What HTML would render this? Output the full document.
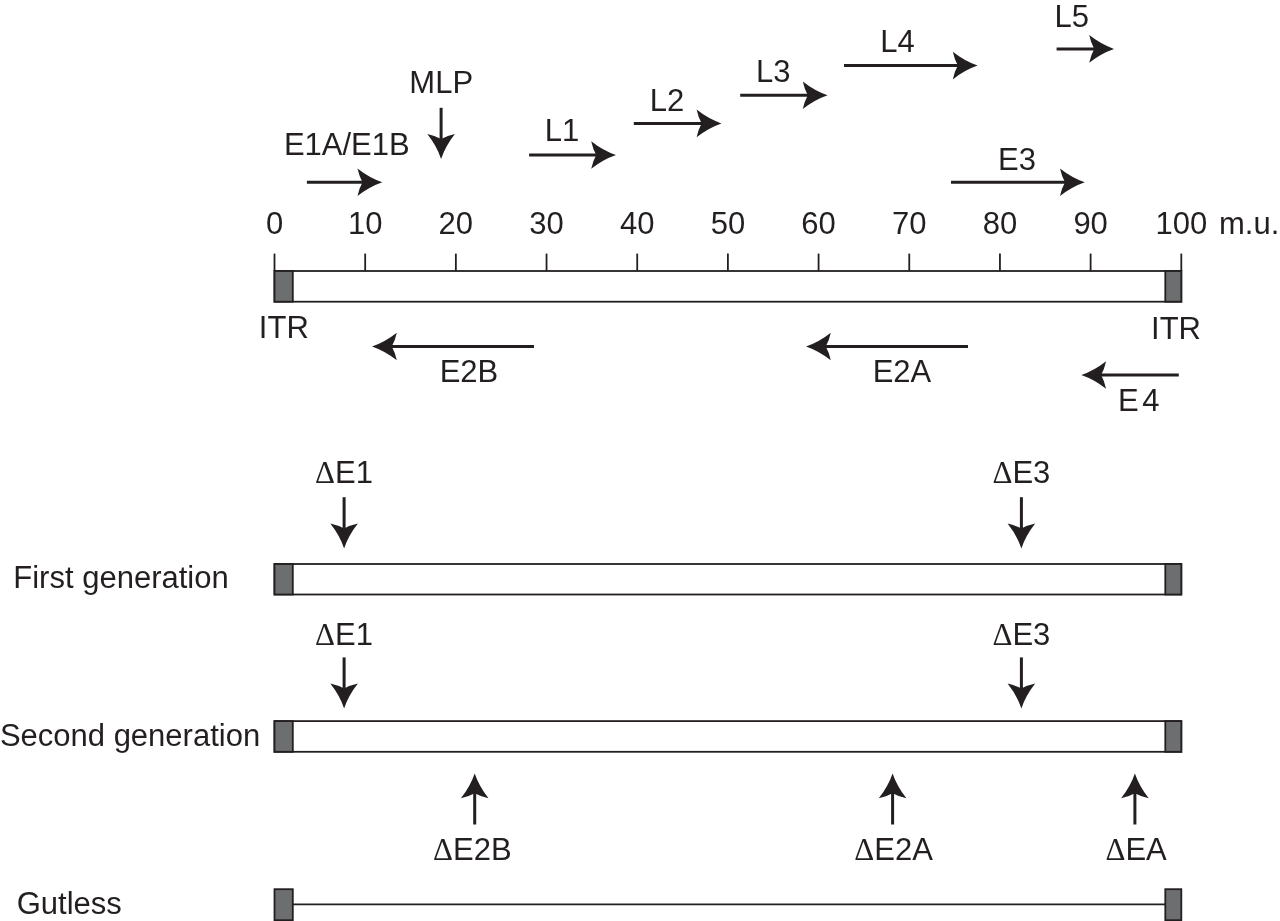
<!DOCTYPE html>
<html lang="en">
<head>
<meta charset="utf-8">
<title>Adenovirus genome map and vector generations</title>
<style>
html,body{margin:0;padding:0;background:#fff;}
body{width:1280px;height:921px;overflow:hidden;}
svg{display:block;will-change:transform;}
svg text{font-family:"Liberation Sans",Arial,Helvetica,sans-serif;fill:#231f20;}
svg .sym{font-family:"Liberation Serif","Times New Roman",serif;}
</style>
</head>
<body>
<svg width="1280" height="921" viewBox="0 0 1280 921">
<rect x="0" y="0" width="1280" height="921" fill="#ffffff"/>
<line x1="274.50" y1="253.6" x2="274.50" y2="271" stroke="#231f20" stroke-width="1.8"/>
<text x="274.5" y="234" text-anchor="middle" font-size="31">0</text>
<line x1="365.18" y1="253.6" x2="365.18" y2="271" stroke="#231f20" stroke-width="1.8"/>
<text x="365.18" y="234" text-anchor="middle" font-size="31">10</text>
<line x1="455.86" y1="253.6" x2="455.86" y2="271" stroke="#231f20" stroke-width="1.8"/>
<text x="455.86" y="234" text-anchor="middle" font-size="31">20</text>
<line x1="546.54" y1="253.6" x2="546.54" y2="271" stroke="#231f20" stroke-width="1.8"/>
<text x="546.54" y="234" text-anchor="middle" font-size="31">30</text>
<line x1="637.22" y1="253.6" x2="637.22" y2="271" stroke="#231f20" stroke-width="1.8"/>
<text x="637.22" y="234" text-anchor="middle" font-size="31">40</text>
<line x1="727.90" y1="253.6" x2="727.90" y2="271" stroke="#231f20" stroke-width="1.8"/>
<text x="727.9" y="234" text-anchor="middle" font-size="31">50</text>
<line x1="818.58" y1="253.6" x2="818.58" y2="271" stroke="#231f20" stroke-width="1.8"/>
<text x="818.58" y="234" text-anchor="middle" font-size="31">60</text>
<line x1="909.26" y1="253.6" x2="909.26" y2="271" stroke="#231f20" stroke-width="1.8"/>
<text x="909.26" y="234" text-anchor="middle" font-size="31">70</text>
<line x1="999.94" y1="253.6" x2="999.94" y2="271" stroke="#231f20" stroke-width="1.8"/>
<text x="999.94" y="234" text-anchor="middle" font-size="31">80</text>
<line x1="1090.62" y1="253.6" x2="1090.62" y2="271" stroke="#231f20" stroke-width="1.8"/>
<text x="1090.62" y="234" text-anchor="middle" font-size="31">90</text>
<line x1="1181.30" y1="253.6" x2="1181.30" y2="271" stroke="#231f20" stroke-width="1.8"/>
<text x="1181.3" y="234" text-anchor="middle" font-size="31">100</text>
<text x="1219" y="234" text-anchor="start" font-size="31">m.u.</text>
<rect x="274.5" y="271" width="906.8" height="30.69999999999999" fill="#fff" stroke="#231f20" stroke-width="1.8"/>
<rect x="274.5" y="271" width="18.3" height="30.69999999999999" fill="#6d6e70" stroke="#231f20" stroke-width="1.8"/>
<rect x="1165.3" y="271" width="16.0" height="30.69999999999999" fill="#6d6e70" stroke="#231f20" stroke-width="1.8"/>
<text x="283.8" y="338.2" text-anchor="middle" font-size="31">ITR</text>
<text x="1176" y="338.5" text-anchor="middle" font-size="31">ITR</text>
<line x1="306.9" y1="182.2" x2="363.2" y2="182.2" stroke="#231f20" stroke-width="3.0"/>
<path d="M382.30 182.20 Q369.40 186.62 357.50 196.00 Q359.25 188.00 362.50 182.20 Q359.25 176.40 357.50 168.40 Q369.40 177.78 382.30 182.20 Z" fill="#231f20"/>
<text x="346.8" y="155" text-anchor="middle" font-size="31">E1A/E1B</text>
<text x="441.2" y="92.8" text-anchor="middle" font-size="31">MLP</text>
<line x1="441.1" y1="107.8" x2="441.1" y2="139.79999999999998" stroke="#231f20" stroke-width="3.0"/>
<path d="M441.10 158.90 Q436.68 146.00 427.30 134.10 Q435.30 135.85 441.10 139.10 Q446.90 135.85 454.90 134.10 Q445.52 146.00 441.10 158.90 Z" fill="#231f20"/>
<line x1="529.1" y1="155.0" x2="596.9000000000001" y2="155.0" stroke="#231f20" stroke-width="3.0"/>
<path d="M616.00 155.00 Q603.10 159.42 591.20 168.80 Q592.95 160.80 596.20 155.00 Q592.95 149.20 591.20 141.20 Q603.10 150.58 616.00 155.00 Z" fill="#231f20"/>
<text x="561.9" y="140.9" text-anchor="middle" font-size="31">L1</text>
<line x1="633.8" y1="123.4" x2="702.3000000000001" y2="123.4" stroke="#231f20" stroke-width="3.0"/>
<path d="M721.40 123.40 Q708.50 127.82 696.60 137.20 Q698.35 129.20 701.60 123.40 Q698.35 117.60 696.60 109.60 Q708.50 118.98 721.40 123.40 Z" fill="#231f20"/>
<text x="667" y="110.9" text-anchor="middle" font-size="31">L2</text>
<line x1="740.2" y1="95.3" x2="808.5" y2="95.3" stroke="#231f20" stroke-width="3.0"/>
<path d="M827.60 95.30 Q814.70 99.72 802.80 109.10 Q804.55 101.10 807.80 95.30 Q804.55 89.50 802.80 81.50 Q814.70 90.88 827.60 95.30 Z" fill="#231f20"/>
<text x="773.2" y="81.9" text-anchor="middle" font-size="31">L3</text>
<line x1="844" y1="65.6" x2="958.5" y2="65.6" stroke="#231f20" stroke-width="3.0"/>
<path d="M977.60 65.60 Q964.70 70.02 952.80 79.40 Q954.55 71.40 957.80 65.60 Q954.55 59.80 952.80 51.80 Q964.70 61.18 977.60 65.60 Z" fill="#231f20"/>
<text x="897.4" y="51.9" text-anchor="middle" font-size="31">L4</text>
<line x1="1056.6" y1="48.9" x2="1094.9" y2="48.9" stroke="#231f20" stroke-width="3.0"/>
<path d="M1114.00 48.90 Q1101.10 53.32 1089.20 62.70 Q1090.95 54.70 1094.20 48.90 Q1090.95 43.10 1089.20 35.10 Q1101.10 44.48 1114.00 48.90 Z" fill="#231f20"/>
<text x="1071.7" y="26.9" text-anchor="middle" font-size="31">L5</text>
<line x1="951" y1="182.3" x2="1065.7" y2="182.3" stroke="#231f20" stroke-width="3.0"/>
<path d="M1084.80 182.30 Q1071.90 186.72 1060.00 196.10 Q1061.75 188.10 1065.00 182.30 Q1061.75 176.50 1060.00 168.50 Q1071.90 177.88 1084.80 182.30 Z" fill="#231f20"/>
<text x="1017" y="170.3" text-anchor="middle" font-size="31">E3</text>
<line x1="534" y1="346.5" x2="391.1" y2="346.5" stroke="#231f20" stroke-width="3.0"/>
<path d="M372.00 346.50 Q384.90 342.08 396.80 332.70 Q395.05 340.70 391.80 346.50 Q395.05 352.30 396.80 360.30 Q384.90 350.92 372.00 346.50 Z" fill="#231f20"/>
<text x="469" y="382.1" text-anchor="middle" font-size="31">E2B</text>
<line x1="968" y1="346.5" x2="825.0999999999999" y2="346.5" stroke="#231f20" stroke-width="3.0"/>
<path d="M806.00 346.50 Q818.90 342.08 830.80 332.70 Q829.05 340.70 825.80 346.50 Q829.05 352.30 830.80 360.30 Q818.90 350.92 806.00 346.50 Z" fill="#231f20"/>
<text x="902" y="382.4" text-anchor="middle" font-size="31">E2A</text>
<line x1="1178.8" y1="375" x2="1100.3999999999999" y2="375" stroke="#231f20" stroke-width="3.0"/>
<path d="M1081.30 375.00 Q1094.20 370.58 1106.10 361.20 Q1104.35 369.20 1101.10 375.00 Q1104.35 380.80 1106.10 388.80 Q1094.20 379.42 1081.30 375.00 Z" fill="#231f20"/>
<text x="1118.0" y="410.8" text-anchor="start" font-size="31" style="word-spacing:-5px">E 4</text>
<text x="121" y="588" text-anchor="middle" font-size="31">First generation</text>
<rect x="274.5" y="564" width="906.8" height="30.5" fill="#fff" stroke="#231f20" stroke-width="1.8"/>
<rect x="274.5" y="564" width="18.3" height="30.5" fill="#6d6e70" stroke="#231f20" stroke-width="1.8"/>
<rect x="1165.3" y="564" width="16.0" height="30.5" fill="#6d6e70" stroke="#231f20" stroke-width="1.8"/>
<text x="315.1" y="482.9" font-size="31"><tspan class="sym">Δ</tspan>E1</text>
<line x1="344.1" y1="497.2" x2="344.1" y2="529.3000000000001" stroke="#231f20" stroke-width="3.0"/>
<path d="M344.10 548.40 Q339.68 535.50 330.30 523.60 Q338.30 525.35 344.10 528.60 Q349.90 525.35 357.90 523.60 Q348.52 535.50 344.10 548.40 Z" fill="#231f20"/>
<text x="992.5" y="482.9" font-size="31"><tspan class="sym">Δ</tspan>E3</text>
<line x1="1021.4" y1="497.2" x2="1021.4" y2="529.3000000000001" stroke="#231f20" stroke-width="3.0"/>
<path d="M1021.40 548.40 Q1016.98 535.50 1007.60 523.60 Q1015.60 525.35 1021.40 528.60 Q1027.20 525.35 1035.20 523.60 Q1025.82 535.50 1021.40 548.40 Z" fill="#231f20"/>
<text x="130" y="746" text-anchor="middle" font-size="31">Second generation</text>
<rect x="274.5" y="721.1" width="906.8" height="30.699999999999932" fill="#fff" stroke="#231f20" stroke-width="1.8"/>
<rect x="274.5" y="721.1" width="18.3" height="30.699999999999932" fill="#6d6e70" stroke="#231f20" stroke-width="1.8"/>
<rect x="1165.3" y="721.1" width="16.0" height="30.699999999999932" fill="#6d6e70" stroke="#231f20" stroke-width="1.8"/>
<text x="315.1" y="644.7" font-size="31"><tspan class="sym">Δ</tspan>E1</text>
<line x1="344.1" y1="657.4" x2="344.1" y2="689.3000000000001" stroke="#231f20" stroke-width="3.0"/>
<path d="M344.10 708.40 Q339.68 695.50 330.30 683.60 Q338.30 685.35 344.10 688.60 Q349.90 685.35 357.90 683.60 Q348.52 695.50 344.10 708.40 Z" fill="#231f20"/>
<text x="992.5" y="644.7" font-size="31"><tspan class="sym">Δ</tspan>E3</text>
<line x1="1021.4" y1="657.4" x2="1021.4" y2="689.3000000000001" stroke="#231f20" stroke-width="3.0"/>
<path d="M1021.40 708.40 Q1016.98 695.50 1007.60 683.60 Q1015.60 685.35 1021.40 688.60 Q1027.20 685.35 1035.20 683.60 Q1025.82 695.50 1021.40 708.40 Z" fill="#231f20"/>
<line x1="474.7" y1="824.5" x2="474.7" y2="792.5" stroke="#231f20" stroke-width="3.0"/>
<path d="M474.70 773.40 Q479.12 786.30 488.50 798.20 Q480.50 796.45 474.70 793.20 Q468.90 796.45 460.90 798.20 Q470.28 786.30 474.70 773.40 Z" fill="#231f20"/>
<text x="433.1" y="859.9" font-size="31"><tspan class="sym">Δ</tspan>E2B</text>
<line x1="892.6" y1="824.5" x2="892.6" y2="792.5" stroke="#231f20" stroke-width="3.0"/>
<path d="M892.60 773.40 Q897.02 786.30 906.40 798.20 Q898.40 796.45 892.60 793.20 Q886.80 796.45 878.80 798.20 Q888.18 786.30 892.60 773.40 Z" fill="#231f20"/>
<text x="854.3" y="859.9" font-size="31"><tspan class="sym">Δ</tspan>E2A</text>
<line x1="1134.9" y1="824.5" x2="1134.9" y2="792.5" stroke="#231f20" stroke-width="3.0"/>
<path d="M1134.90 773.40 Q1139.32 786.30 1148.70 798.20 Q1140.70 796.45 1134.90 793.20 Q1129.10 796.45 1121.10 798.20 Q1130.48 786.30 1134.90 773.40 Z" fill="#231f20"/>
<text x="1105.5" y="859.9" font-size="31"><tspan class="sym">Δ</tspan>EA</text>
<text x="69.3" y="914" text-anchor="middle" font-size="31">Gutless</text>
<line x1="274.5" y1="904.3" x2="1181.3" y2="904.3" stroke="#231f20" stroke-width="1.8"/>
<rect x="274.5" y="889.2" width="18.3" height="31.0" fill="#6d6e70" stroke="#231f20" stroke-width="1.8"/>
<rect x="1165.3" y="889.2" width="16.0" height="31.0" fill="#6d6e70" stroke="#231f20" stroke-width="1.8"/>
</svg>
</body>
</html>
